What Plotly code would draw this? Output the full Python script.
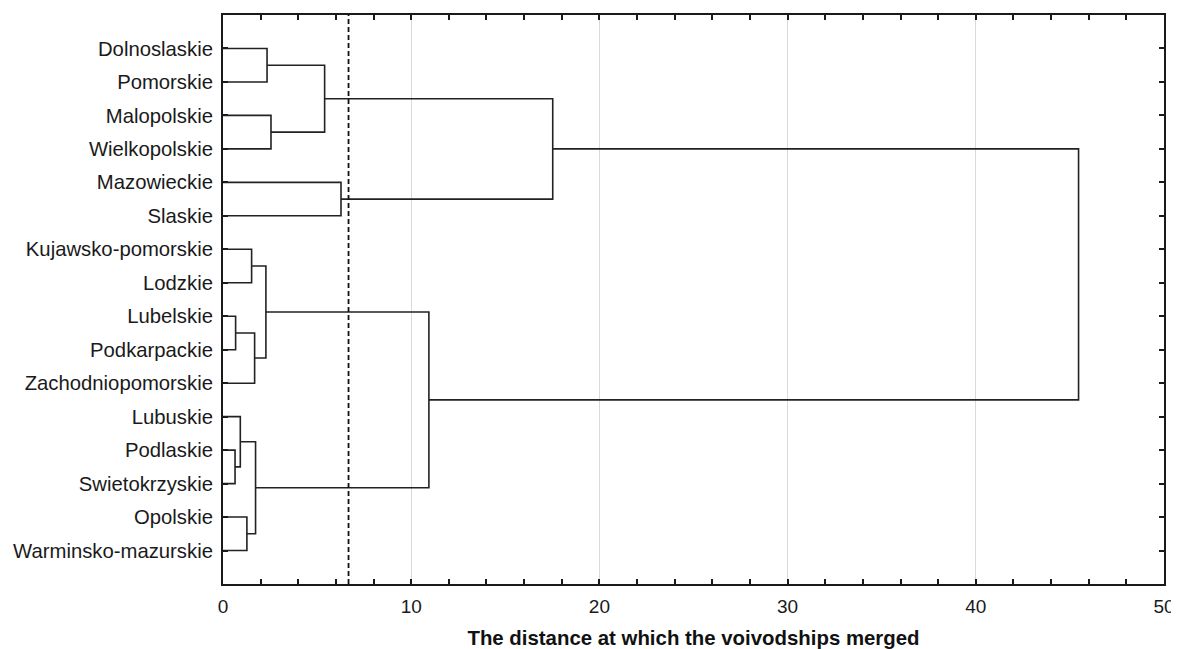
import plotly.graph_objects as go

# Leaves (top to bottom)
leaves = ["Dolnoslaskie", "Pomorskie", "Malopolskie", "Wielkopolskie",
          "Mazowieckie", "Slaskie", "Kujawsko-pomorskie", "Lodzkie",
          "Lubelskie", "Podkarpackie", "Zachodniopomorskie", "Lubuskie",
          "Podlaskie", "Swietokrzyskie", "Opolskie", "Warminsko-mazurskie"]

# Linkage: cluster n+k is formed by merging merge_a[k] and merge_b[k] at merge_height[k]
merge_a = [12, 8, 11, 14, 6, 17, 18, 20, 0, 2, 24, 4, 23, 26, 29]
merge_b = [13, 9, 16, 15, 7, 10, 19, 21, 1, 3, 25, 5, 22, 27, 28]
merge_height = [0.64, 0.67, 0.92, 1.27, 1.52, 1.68, 1.73, 2.28,
                2.34, 2.55, 5.40, 6.27, 10.94, 17.52, 45.46]

cut_distance = 6.67

x_ticks = [0, 10, 20, 30, 40, 50]

n = len(leaves)
pos = {i: (0.0, i + 1.0) for i in range(n)}
xs, ys = [], []
for k, (a, b, h) in enumerate(zip(merge_a, merge_b, merge_height)):
    xa, ya = pos[a]
    xb, yb = pos[b]
    xs += [xa, h, h, xb, None]
    ys += [ya, ya, yb, yb, None]
    pos[n + k] = (h, (ya + yb) / 2)

FONT = "Liberation Sans, Arial, sans-serif"

fig = go.Figure()
fig.add_trace(go.Scatter(x=xs, y=ys, mode="lines",
                         line=dict(color="#222222", width=1.6),
                         hoverinfo="skip", showlegend=False))
fig.add_vline(x=cut_distance, line=dict(color="#111111", width=1.8, dash="5px,3px"))

fig.update_layout(
    width=1171, height=641,
    margin=dict(l=215, r=15, t=7, b=65),
    paper_bgcolor="white", plot_bgcolor="white",
    font=dict(family=FONT, color="#1a1a1a", size=18),
    showlegend=False,
)
fig.update_xaxes(
    automargin=False,
    range=[0, 50], tickvals=x_ticks, ticktext=[str(v) for v in x_ticks],
    showgrid=True, gridcolor="#d9d9d9", gridwidth=1, zeroline=False,
    showline=True, linecolor="#1a1a1a", linewidth=2, mirror="ticks",
    ticks="inside", ticklen=5, tickwidth=1.5, tickcolor="#1a1a1a",
    minor=dict(dtick=2, tick0=0, ticks="inside", ticklen=5, tickwidth=1.5,
               tickcolor="#1a1a1a", showgrid=False),
    tickfont=dict(size=19), ticklabelstandoff=4,
    title=dict(text="<b>The distance at which the voivodships merged</b>",
               font=dict(size=20.4, family=FONT, color="#111111"), standoff=16),
)
fig.update_yaxes(
    automargin=False,
    range=[17, 0], tickvals=list(range(1, n + 1)), ticktext=leaves,
    showgrid=False, zeroline=False,
    showline=True, linecolor="#1a1a1a", linewidth=2, mirror="ticks",
    ticks="inside", ticklen=5, tickwidth=1.5, tickcolor="#1a1a1a",
    tickfont=dict(size=20.3), ticklabelstandoff=4,
)

fig.write_html("out.html")
